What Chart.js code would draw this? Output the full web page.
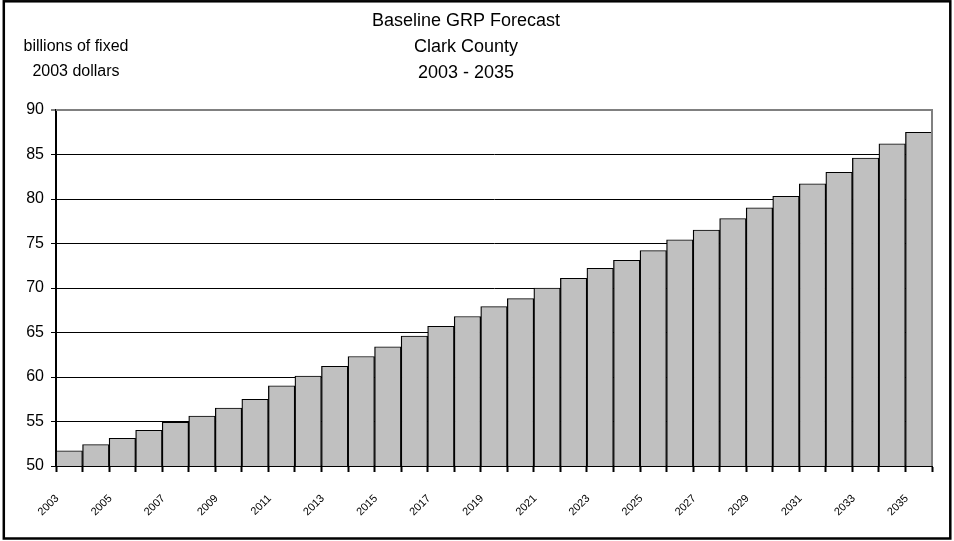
<!DOCTYPE html>
<html>
<head>
<meta charset="utf-8">
<title>Baseline GRP Forecast - Clark County</title>
<script src="https://cdn.jsdelivr.net/npm/chart.js@4.4.1/dist/chart.umd.min.js"></script>
<style>
  html, body { margin: 0; padding: 0; background: #ffffff; }
  #wrap { width: 954px; height: 541px; position: relative; }
</style>
</head>
<body>
<div id="wrap"><canvas id="grp" width="954" height="541"></canvas></div>
<script>
// Forecast years (one bar per year)
const years = [
  '2003','2004','2005','2006','2007','2008','2009','2010','2011','2012','2013',
  '2014','2015','2016','2017','2018','2019','2020','2021','2022','2023','2024',
  '2025','2026','2027','2028','2029','2030','2031','2032','2033','2034','2035'
];

// Gross regional product, billions of fixed 2003 dollars
const grp = [
  51.7, 52.4, 53.1, 54.0, 54.9, 55.6, 56.5, 57.5, 59.0, 60.1, 61.2,
  62.3, 63.4, 64.6, 65.7, 66.8, 67.9, 68.8, 70.0, 71.1, 72.2, 73.1,
  74.2, 75.4, 76.5, 77.8, 79.0, 80.3, 81.7, 83.0, 84.6, 86.2, 87.5
];

// Years that carry a label on the category axis
const labeledYears = [
  '2003','2005','2007','2009','2011','2013','2015','2017','2019',
  '2021','2023','2025','2027','2029','2031','2033','2035'
];

// Value axis range and step
const yTicks = { min: 50, max: 90, step: 5 };

// Title lines and unit note
const titleLines = ['Baseline GRP Forecast', 'Clark County', '2003 - 2035'];
const unitLines = ['billions of fixed', '2003 dollars'];

const FONT = '"Liberation Sans", Arial, Helvetica, sans-serif';

// Unit note at upper left, plot frame on top/right, and the outer border
const decorations = {
  id: 'decorations',
  afterDraw(chart) {
    const ctx = chart.ctx;
    const area = chart.chartArea;
    ctx.save();
    // grey frame along the top and right of the plot area
    ctx.strokeStyle = '#808080';
    ctx.lineWidth = 2;
    ctx.beginPath();
    ctx.moveTo(area.left, area.top);
    ctx.lineTo(area.right, area.top);
    ctx.lineTo(area.right, area.bottom);
    ctx.stroke();

    // unit note
    ctx.fillStyle = '#000';
    ctx.font = '16px ' + FONT;
    ctx.textAlign = 'center';
    ctx.textBaseline = 'middle';
    ctx.fillText(unitLines[0], 76, 47);
    ctx.fillText(unitLines[1], 76, 72);

    // outer border
    ctx.strokeStyle = '#000';
    ctx.lineWidth = 2.5;
    ctx.strokeRect(3.8, 1.3, 946.5, 537.2);
    ctx.restore();
  }
};

new Chart(document.getElementById('grp'), {
  type: 'bar',
  data: {
    labels: years,
    datasets: [{
      data: grp,
      backgroundColor: '#C0C0C0',
      borderColor: '#000000',
      borderWidth: { top: 1, left: 1.3, right: 1.3, bottom: 0 },
      categoryPercentage: 1.0,
      barPercentage: 1.0
    }]
  },
  options: {
    responsive: false,
    animation: false,
    devicePixelRatio: 1,
    layout: { padding: { left: 0, right: 22, top: 0, bottom: 0 } },
    plugins: {
      legend: { display: false },
      tooltip: { enabled: false },
      title: {
        display: true,
        text: titleLines,
        color: '#000',
        font: { family: FONT, size: 18, weight: 'normal', lineHeight: 26 / 18 },
        padding: { top: 8, bottom: 24 }
      }
    },
    scales: {
      x: {
        grid: {
          display: true,
          drawOnChartArea: false,
          drawTicks: true,
          tickLength: 6,
          tickWidth: 2,
          tickColor: '#000',
          offset: true
        },
        border: { display: true, color: '#000', width: 2 },
        ticks: {
          autoSkip: false,
          minRotation: 45,
          maxRotation: 45,
          color: '#000',
          font: { family: FONT, size: 11 },
          padding: 20,
          labelOffset: -12,
          callback: function (value) {
            const y = this.getLabelForValue(value);
            return labeledYears.includes(y) ? y : '';
          }
        },
        afterFit(scale) { scale.height = 75; }
      },
      y: {
        min: yTicks.min,
        max: yTicks.max,
        ticks: {
          stepSize: yTicks.step,
          color: '#000',
          font: { family: FONT, size: 16 },
          padding: 7
        },
        grid: {
          color: (c) => (c.tick && c.tick.value === yTicks.max ? '#808080' : '#000'),
          lineWidth: (c) => (c.tick && c.tick.value === yTicks.max ? 2 : 1),
          tickColor: '#000',
          tickLength: 5,
          tickWidth: 1
        },
        border: { display: true, color: '#000', width: 2 },
        afterFit(scale) { scale.width = 56; }
      }
    }
  },
  plugins: [decorations]
});
</script>
</body>
</html>
